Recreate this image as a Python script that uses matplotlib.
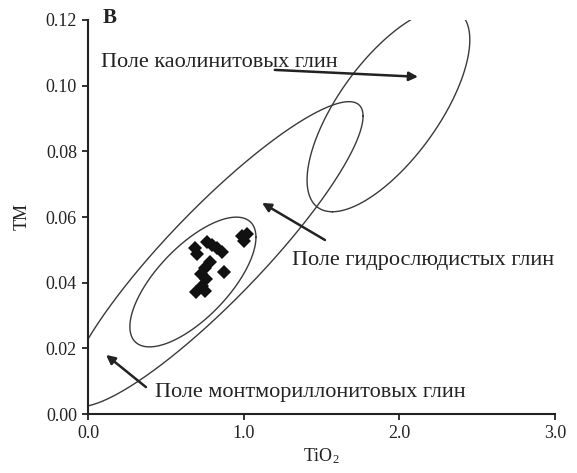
import numpy as np
import matplotlib
matplotlib.use("Agg")
import matplotlib.pyplot as plt

plt.rcParams['font.family'] = ['Liberation Serif', 'DejaVu Serif']
plt.rcParams['mathtext.fontset'] = 'custom'
plt.rcParams['mathtext.rm'] = 'Liberation Serif'
plt.rcParams['mathtext.it'] = 'Liberation Serif:italic'

# ---- data ----
tio2 = [0.687, 0.700, 0.764, 0.796, 0.829, 0.861, 0.784, 0.751, 0.726,
        0.758, 0.732, 0.694, 0.751, 0.873, 1.002, 1.021, 0.989]
tm = [0.0506, 0.0487, 0.0524, 0.0515, 0.0506, 0.0493, 0.0463, 0.0445, 0.0426,
      0.0411, 0.0390, 0.0372, 0.0375, 0.0433, 0.0527, 0.0548, 0.0542]

# ellipses: centre and two conjugate half-axis vectors (data units)
kaol_center = (1.930, 0.0926)
kaol_u = (-0.360, -0.0310)
kaol_v = (0.379, 0.0)

hydro_center = (0.816, 0.0487)
hydro_u = (0.951, 0.0420)
hydro_v = (0.0, 0.0198)

mont_center = (0.674, 0.0402)
mont_u = (0.405, 0.01362)
mont_v = (0.0, 0.01432)

x_ticks = [0.0, 1.0, 2.0, 3.0]
x_ticklabels = ['0.0', '1.0', '2.0', '3.0']
y_ticks = [0.00, 0.02, 0.04, 0.06, 0.08, 0.10, 0.12]
y_ticklabels = ['0.00', '0.02', '0.04', '0.06', '0.08', '0.10', '0.12']

label_kaol = 'Поле каолинитовых глин'
label_hydro = 'Поле гидрослюдистых глин'
label_mont = 'Поле монтмориллонитовых глин'
panel_letter = 'В'

# ---- figure ----
fig = plt.figure(figsize=(5.77, 4.73), dpi=100, facecolor='white')
ax = fig.add_axes([88/577, 59/473, 467/577, 394/473])
ax.set_facecolor('white')

t = np.linspace(0, 2*np.pi, 500)
for c, u, v in [(kaol_center, kaol_u, kaol_v),
                (hydro_center, hydro_u, hydro_v),
                (mont_center, mont_u, mont_v)]:
    ex = c[0] + u[0]*np.cos(t) + v[0]*np.sin(t)
    ey = c[1] + u[1]*np.cos(t) + v[1]*np.sin(t)
    ax.plot(ex, ey, color='#3a3a3a', lw=1.0)

ax.plot(tio2, tm, linestyle='none', marker='D', ms=7.5, color='#111111',
        markeredgewidth=0)

ax.set_xlim(0, 3.0)
ax.set_ylim(0, 0.12)
ax.set_xticks(x_ticks)
ax.set_xticklabels(x_ticklabels)
ax.set_yticks(y_ticks)
ax.set_yticklabels(y_ticklabels)
for s in ['top', 'right']:
    ax.spines[s].set_visible(False)
for s in ['left', 'bottom']:
    ax.spines[s].set_linewidth(1.5)
    ax.spines[s].set_color('#222222')
ax.tick_params(direction='out', length=4, width=1.3, color='#222222',
               labelsize=13, labelcolor='#222222', pad=4)

ax.set_xlabel(r'TiO$_\mathregular{2}$', fontsize=13, color='#222222', labelpad=3)
ax.set_ylabel('TM', fontsize=13, color='#222222', labelpad=11)

txt = dict(fontsize=16, color='#222222')
ax.text(0.096, 0.1205, panel_letter, fontsize=15, fontweight='bold',
        color='#222222', va='center', ha='left')
ax.text(0.083, 0.1057, label_kaol, va='baseline', ha='left', **txt)
ax.text(1.310, 0.0454, label_hydro, va='baseline', ha='left', **txt)
ax.text(0.430, 0.0052, label_mont, va='baseline', ha='left', **txt)

arrow = dict(arrowstyle='-|>', lw=1.8, color='#222222', mutation_scale=13,
             shrinkA=0, shrinkB=0)
ax.annotate('', xy=(2.12, 0.1027), xytext=(1.20, 0.1048), arrowprops=arrow)
ax.annotate('', xy=(1.118, 0.0643), xytext=(1.522, 0.0530), arrowprops=arrow)
ax.annotate('', xy=(0.116, 0.0180), xytext=(0.372, 0.0082), arrowprops=arrow)

fig.savefig('out.png', dpi=100, facecolor='white')
